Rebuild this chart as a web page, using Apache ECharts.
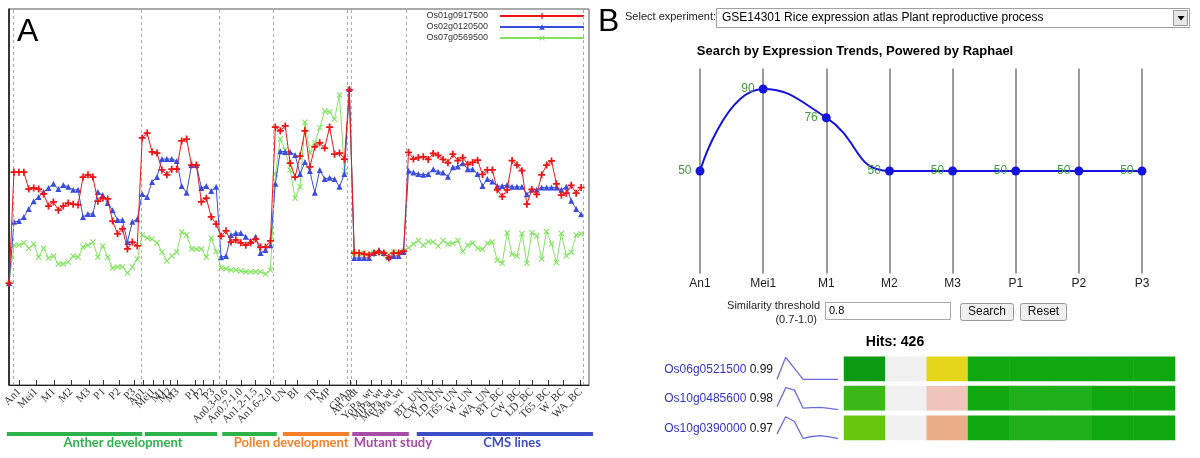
<!DOCTYPE html>
<html><head><meta charset="utf-8">
<script src="https://cdn.jsdelivr.net/npm/echarts@6/dist/echarts.min.js"></script>
<style>html,body{margin:0;padding:0;background:#fff}#c{width:1200px;height:458px}</style>
</head><body><div id="c"></div>
<script>
// ---------- Panel A data ----------
const geneNames = ['Os01g0917500', 'Os02g0120500', 'Os07g0569500'];
const redValues = [
  27.1, 56.6, 56.6, 56.6, 52.1, 52.4, 52.1, 50.8, 47.6, 48.7,
  46.5, 47.6, 48.4, 48.1, 47.9, 55.3, 55.9, 55.3, 48.9, 49.7,
  49.5, 43.6, 40.2, 41.5, 36.2, 38.0, 37.0, 65.7, 67.0, 62.0,
  61.7, 57.2, 55.9, 57.4, 57.4, 64.9, 65.4, 58.5, 58.5, 48.7,
  49.7, 44.7, 42.8, 39.6, 41.0, 38.0, 38.6, 37.8, 37.2, 37.8,
  38.8, 36.7, 36.7, 38.3, 68.6, 67.6, 68.9, 59.0, 55.3, 60.9,
  67.6, 58.0, 63.3, 64.4, 63.0, 68.6, 61.4, 61.7, 60.1, 78.5,
  35.1, 35.1, 34.8, 34.6, 35.1, 35.4, 35.1, 33.8, 35.1, 35.1,
  35.6, 61.9, 60.1, 60.5, 60.7, 60.0, 61.6, 61.1, 60.0, 59.1,
  61.4, 59.7, 60.5, 58.7, 59.2, 59.8, 56.0, 57.2, 57.2, 51.9,
  50.1, 51.9, 59.7, 58.5, 57.0, 48.1, 52.0, 50.7, 55.9, 58.5,
  59.6, 53.5, 50.5, 51.0, 53.1, 51.0, 52.5
];
const blueValues = [
  27.1, 43.4, 43.6, 44.7, 46.8, 48.9, 50.0, 51.3, 52.4, 53.5,
  52.1, 53.2, 52.7, 51.9, 51.9, 44.7, 45.5, 45.5, 51.3, 50.5,
  48.4, 46.5, 43.9, 43.9, 38.0, 43.4, 44.1, 50.8, 50.0, 54.0,
  55.3, 60.1, 60.1, 60.1, 59.6, 52.9, 51.1, 58.5, 58.5, 52.4,
  52.9, 51.6, 52.7, 34.0, 34.3, 39.9, 40.4, 40.4, 39.4, 38.3,
  39.4, 35.1, 35.9, 37.2, 53.5, 62.2, 62.0, 62.0, 61.2, 56.1,
  59.3, 56.9, 51.1, 57.2, 54.8, 55.1, 54.8, 52.7, 56.1, 78.7,
  33.8, 33.8, 33.8, 33.8, 35.1, 35.9, 35.1, 34.0, 34.3, 34.3,
  35.4, 57.0, 56.5, 56.1, 55.9, 56.1, 57.4, 56.7, 56.5, 55.4,
  57.9, 58.1, 59.0, 57.4, 57.4, 56.1, 52.9, 54.8, 54.1, 52.9,
  52.9, 53.2, 52.7, 52.7, 52.7, 50.7, 52.0, 51.9, 52.5, 52.5,
  52.5, 52.5, 51.9, 52.7, 49.0, 46.8, 45.4
];
const greenValues = [
  27.1, 37.2, 37.2, 37.8, 36.4, 37.5, 34.0, 36.4, 33.8, 34.3,
  32.2, 32.2, 32.7, 34.3, 34.0, 36.7, 37.2, 38.0, 34.0, 37.0,
  34.0, 31.1, 31.4, 31.4, 29.8, 31.4, 33.5, 39.9, 39.1, 38.8,
  37.8, 35.4, 33.0, 34.3, 35.4, 40.7, 39.9, 36.2, 36.2, 36.2,
  34.0, 39.1, 35.6, 31.1, 30.9, 30.6, 30.6, 30.3, 30.1, 30.1,
  30.1, 30.1, 29.5, 30.6, 56.1, 65.4, 62.5, 57.2, 49.7, 52.7,
  69.9, 61.7, 64.4, 68.4, 72.9, 72.6, 70.7, 77.1, 56.9, 78.7,
  35.1, 34.8, 35.1, 34.6, 35.1, 35.1, 35.1, 34.8, 35.4, 35.1,
  35.6, 36.5, 37.5, 38.4, 37.2, 38.1, 38.0, 37.0, 38.4, 37.5,
  37.7, 38.4, 35.5, 37.2, 37.7, 36.4, 36.1, 37.7, 38.0, 33.2,
  32.4, 40.5, 34.8, 34.3, 40.3, 32.4, 40.5, 39.7, 33.5, 40.8,
  37.5, 32.6, 40.3, 34.4, 35.3, 39.9, 40.2
];
// tick label positions (sample index) and texts
const tickPositions = [2.1, 5.5, 9.1, 12.6, 16.2, 19.2, 22.3, 25.3,
  27.3, 29.3, 31.3, 32.7, 34.2, 37.8, 39.4, 41.4,
  44, 47, 50, 53, 56, 58.4, 62.4, 65, 69.1,
  70.4, 73.5, 75.5, 77.6, 79.6,
  83.6, 85.8, 87.9, 90.7, 93.7, 97.3, 100, 103.4, 106, 109.4, 112.4, 115.9];
const tickTexts = ['An1', 'Mei1', 'M1', 'M2', 'M3', 'P1', 'P2', 'P3',
  'An1', 'Mei1', 'M1', 'M2', 'M3', 'P1', 'P2', 'P3',
  'An0.3-0.6', 'An0.7-1.0', 'An1.2-1.5', 'An1.6-2.0', 'UN', 'BI', 'TR', 'MP', 'GPAn',
  'An_udt', 'YoPa_wt', 'MiPa_wt', 'MePa_wt', 'VaPa_wt',
  'BT_UN', 'CW_UN', 'LD_UN', 'T65_UN', 'W_UN', 'WA_UN', 'BT_BC', 'CW_BC', 'LD_BC', 'T65_BC', 'W_BC', 'WA_BC'];
const groupBoundaries = [0.8, 26.9, 42.6, 53.5, 68.6, 69.3, 80.6, 116.4];
// study bars under the axis: [from, to, studyIndex]
const studyBars = [[0.3, 27.6, 0], [28.1, 42.7, 0], [43.7, 54.7, 0], [55.9, 69.3, 1], [69.9, 81.3, 2], [82.9, 118.4, 3]];
const studyNames = ['Anther development', 'Pollen development', 'Mutant study', 'CMS lines'];
const studyLabelAt = [23.7, 57.6, 78.1, 102.1];

// ---------- Panel B data ----------
const trendStages = ['An1', 'Mei1', 'M1', 'M2', 'M3', 'P1', 'P2', 'P3'];
const trendValues = [50, 90, 76, 50, 50, 50, 50, 50];
const hitGenes = ['Os06g0521500', 'Os10g0485600', 'Os10g0390000'];
const hitScores = ['0.99', '0.98', '0.97'];
const sparkValues = [
  [0, 1, 0.5, 0, 0, 0, 0, 0],
  [0.15, 1, 0.89, 0.07, 0.09, 0.11, 0.06, 0],
  [0.22, 1, 0.78, 0.01, 0.1, 0.14, 0.08, 0]
];
// heat levels per stage (colour classes)
const heatLevels = [
  [8, 2, 3, 7, 7, 7, 7, 7],
  [5, 2, 1, 7, 6, 6, 7, 7],
  [4, 2, 0, 7, 6, 6, 7, 7]
];
const hitCount = 426;

// ---------- styles ----------
const FONT = 'Liberation Sans';
const colRed = '#f01515', colBlue = '#3a4ce0', colGreen = '#80e35e';
const studyColors = ['#2eb34c', '#f5822a', '#a84aa8', '#3b4ec6'];
const levelColors = ['#e9ae88', '#efc5ba', '#f0f0f0', '#e3d61b', '#67c70f', '#3cb718', '#20b01c', '#10a80f', '#0b9a12'];
const plusSym = 'path://M3,0h2v3h3v2h-3v3h-2v-3h-3v-2h3z';
const xSym = 'path://M1,0L4,3L7,0L8,1L5,4L8,7L7,8L4,5L1,8L0,7L3,4L0,1Z';

const chart = echarts.init(document.getElementById('c'), null, {renderer: 'canvas'});

const grids = [
  {left: 5.3, width: 583.7, top: 9, height: 376, show: true, borderColor: '#555', borderWidth: 1},
  {left: 5.3, width: 583.7, top: 432, height: 4},
  {left: 700, width: 442, top: 68.5, height: 205},
];
const xAxes = [
  {gridIndex: 0, type: 'value', min: 0, max: 117.6,
    axisLine: {show: true, onZero: false, lineStyle: {color: '#222', width: 1}},
    axisTick: {show: true, inside: true, length: 5, customValues: tickPositions, lineStyle: {color: '#333'}},
    axisLabel: {show: true, rotate: 45, customValues: tickPositions, margin: 5,
      fontSize: 11, fontFamily: 'Liberation Serif', color: '#333',
      formatter: v => { const i = tickPositions.findIndex(p => Math.abs(p - v) < 1e-6); return i >= 0 ? tickTexts[i] : ''; }},
    splitLine: {show: false}},
  {gridIndex: 1, type: 'value', min: 0, max: 117.6, show: false},
  {gridIndex: 2, type: 'category', data: trendStages, boundaryGap: false,
    axisLine: {show: false}, axisTick: {show: false},
    axisLabel: {margin: 4, fontSize: 12, fontFamily: FONT, color: '#222'},
    splitLine: {show: true, lineStyle: {color: '#9a9a9a', width: 2}}},
];
const yAxes = [
  {gridIndex: 0, type: 'value', min: 0, max: 100,
    axisLine: {show: true, lineStyle: {color: '#111', width: 1.5}}, axisTick: {show: false},
    axisLabel: {show: false}, splitLine: {show: false}},
  {gridIndex: 1, type: 'value', min: -1, max: 1, show: false},
  {gridIndex: 2, type: 'value', min: 0, max: 100, show: false},
];
const series = [
  {name: geneNames[0], type: 'line', xAxisIndex: 0, yAxisIndex: 0, data: redValues.map((v, i) => [i, v]),
    symbol: plusSym, symbolSize: 7, color: colRed, lineStyle: {width: 1, color: colRed}, z: 5,
    markLine: {silent: true, symbol: 'none', label: {show: false},
      lineStyle: {type: [3, 3], color: '#aaa', width: 1},
      data: groupBoundaries.map(b => ({xAxis: b}))}},
  {name: geneNames[1], type: 'line', xAxisIndex: 0, yAxisIndex: 0, data: blueValues.map((v, i) => [i, v]),
    symbol: 'triangle', symbolSize: 6, color: colBlue, lineStyle: {width: 1, color: colBlue}, z: 4},
  {name: geneNames[2], type: 'line', xAxisIndex: 0, yAxisIndex: 0, data: greenValues.map((v, i) => [i, v]),
    symbol: xSym, symbolSize: 6, color: colGreen, lineStyle: {width: 1, color: colGreen}, z: 3},
  {type: 'custom', xAxisIndex: 1, yAxisIndex: 1, clip: false, data: studyBars,
    renderItem: (params, api) => {
      const a = api.coord([api.value(0), 0]), b = api.coord([api.value(1), 0]);
      return {type: 'rect', shape: {x: a[0], y: a[1] - 2, width: b[0] - a[0], height: 4},
        style: {fill: studyColors[api.value(2)]}};
    }},
  {type: 'custom', xAxisIndex: 1, yAxisIndex: 1, clip: false, data: studyLabelAt.map((p, i) => [p, i]),
    renderItem: (params, api) => {
      const a = api.coord([api.value(0), 0]);
      const i = api.value(1);
      return {type: 'text', x: a[0], y: a[1] + 2.5,
        style: {text: studyNames[i], fill: studyColors[i], font: 'bold 13px Lato', align: 'center', verticalAlign: 'top'}};
    }},
  {type: 'line', xAxisIndex: 2, yAxisIndex: 2, data: trendValues, smooth: 0.5,
    symbol: 'circle', symbolSize: 9, color: '#1414dc', lineStyle: {width: 2, color: '#1414dc'},
    label: {show: true, position: 'left', distance: 4, color: '#3f9a3f', fontSize: 12, fontFamily: FONT}},
];

// sparklines & heat rows
const sparkTops = [357.3, 387.7, 416.7];
const heatTops = [356.7, 386, 415.7];
const heatSeriesIdx = [];
hitGenes.forEach((g, r) => {
  grids.push({left: 777, width: 61, top: sparkTops[r], height: 22});
  const gi = grids.length - 1;
  xAxes.push({gridIndex: gi, type: 'category', data: trendStages, boundaryGap: false, show: false});
  yAxes.push({gridIndex: gi, type: 'value', min: 0, max: 1, show: false});
  series.push({type: 'line', xAxisIndex: xAxes.length - 1, yAxisIndex: yAxes.length - 1, data: sparkValues[r],
    symbol: 'none', lineStyle: {width: 1.3, color: '#6a6ae2'}, color: '#6a6ae2'});
});
hitGenes.forEach((g, r) => {
  grids.push({left: 844, width: 331, top: heatTops[r], height: 24.3});
  const gi = grids.length - 1;
  xAxes.push({gridIndex: gi, type: 'category', data: trendStages, show: false});
  yAxes.push({gridIndex: gi, type: 'category', data: [g], show: false});
  series.push({type: 'heatmap', xAxisIndex: xAxes.length - 1, yAxisIndex: yAxes.length - 1,
    data: heatLevels[r].map((v, c) => [c, 0, v]), itemStyle: {borderWidth: 0}});
  heatSeriesIdx.push(series.length - 1);
});

const T = (x, y, text, font, fill, align, extra) => Object.assign({type: 'text', x, y,
  style: {text, font, fill: fill || '#222', align: align || 'left', verticalAlign: 'middle'}}, extra || {});

const graphic = [
  T(17, 32, 'A', '32px ' + FONT, '#000'),
  T(598, 22, 'B', '32px ' + FONT, '#000'),
  T(625, 17, 'Select experiment:', '11px ' + FONT, '#222'),
  {type: 'rect', shape: {x: 716.5, y: 8.5, width: 473, height: 19}, style: {fill: '#fff', stroke: '#a0a0a0', lineWidth: 1}},
  T(722, 18, 'GSE14301 Rice expression atlas Plant reproductive process', '12px ' + FONT, '#000'),
  {type: 'rect', shape: {x: 1173.5, y: 10.5, width: 14, height: 15}, style: {fill: '#e6e6e6', stroke: '#999', lineWidth: 1}},
  {type: 'polygon', shape: {points: [[1177.5, 16], [1184.5, 16], [1181, 20.5]]}, style: {fill: '#000'}},
  T(855, 51, 'Search by Expression Trends, Powered by Raphael', 'bold 13px ' + FONT, '#000', 'center'),
  T(820, 306, 'Similarity threshold', '11px ' + FONT, '#222', 'right'),
  T(817, 319.5, '(0.7-1.0)', '11px ' + FONT, '#222', 'right'),
  {type: 'rect', shape: {x: 825.5, y: 302.5, width: 125, height: 17}, style: {fill: '#fff', stroke: '#a8a8a8', lineWidth: 1}},
  T(829, 311, '0.8', '11px ' + FONT, '#000'),
  {type: 'rect', shape: {x: 960.5, y: 303.5, width: 53, height: 17, r: 2}, style: {fill: '#efefef', stroke: '#9a9a9a', lineWidth: 1}},
  T(987, 312, 'Search', '12px ' + FONT, '#111', 'center'),
  {type: 'rect', shape: {x: 1020.5, y: 303.5, width: 46, height: 17, r: 2}, style: {fill: '#efefef', stroke: '#9a9a9a', lineWidth: 1}},
  T(1043.5, 312, 'Reset', '12px ' + FONT, '#111', 'center'),
  T(895, 342, 'Hits: ' + hitCount, 'bold 14px ' + FONT, '#000', 'center'),
];
hitGenes.forEach((g, r) => {
  graphic.push({type: 'text', x: 773, y: heatTops[r] + 12.5,
    style: {text: '{g|' + g + '}{s| ' + hitScores[r] + '}', align: 'right', verticalAlign: 'middle',
      rich: {g: {fill: '#3434c8', font: '12px ' + FONT}, s: {fill: '#111', font: '12px ' + FONT}}}});
});

chart.setOption({
  animation: false,
  textStyle: {fontFamily: FONT},
  grid: grids, xAxis: xAxes, yAxis: yAxes, series,
  legend: {data: geneNames, orient: 'vertical', right: 610, top: 6, align: 'right',
    itemWidth: 84, itemHeight: 7, itemGap: 1, selectedMode: false,
    textStyle: {fontSize: 9, color: '#333', fontFamily: FONT, lineHeight: 10, padding: [0, 7, 0, 0]}},
  visualMap: {type: 'piecewise', show: false, dimension: 2, seriesIndex: heatSeriesIdx,
    pieces: levelColors.map((c, i) => ({value: i, color: c}))},
  graphic
});
</script></body></html>
